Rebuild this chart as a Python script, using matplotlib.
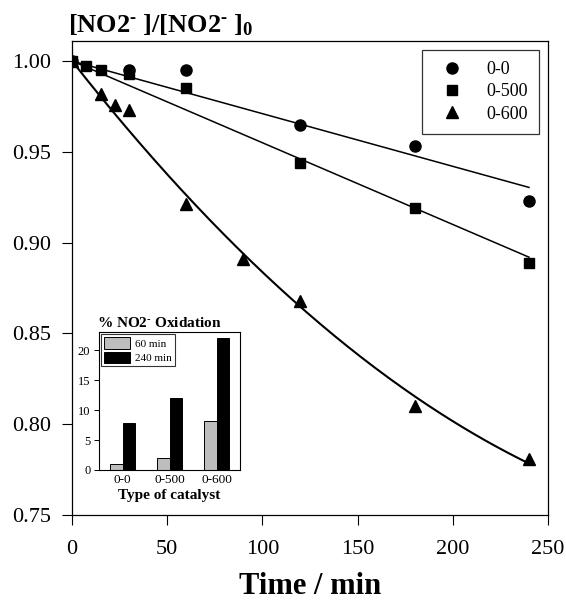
import numpy as np
import matplotlib
matplotlib.use("Agg")
import matplotlib.pyplot as plt

plt.rcParams['font.family'] = ['Liberation Serif', 'DejaVu Serif']
plt.rcParams['mathtext.fontset'] = 'custom'
plt.rcParams['mathtext.rm'] = 'Liberation Serif'
plt.rcParams['mathtext.bf'] = 'Liberation Serif:bold'
plt.rcParams['mathtext.it'] = 'Liberation Serif:italic'

# ---- data ----
t_00 = [0, 30, 60, 120, 180, 240]
y_00 = [1.000, 0.995, 0.995, 0.965, 0.953, 0.923]
t_500 = [0, 7.5, 15, 30, 60, 120, 180, 240]
y_500 = [1.000, 0.997, 0.995, 0.993, 0.985, 0.944, 0.919, 0.889]
t_600 = [0, 15, 22.5, 30, 60, 90, 120, 180, 240]
y_600 = [1.000, 0.982, 0.976, 0.973, 0.921, 0.891, 0.868, 0.810, 0.781]
series_labels = ['0-0', '0-500', '0-600']

x_ticks = [0, 50, 100, 150, 200, 250]
y_ticks = [0.75, 0.80, 0.85, 0.90, 0.95, 1.00]

catalysts = ['0-0', '0-500', '0-600']
pct_60 = [1.0, 2.0, 8.2]
pct_240 = [7.8, 12.0, 22.1]
inset_yticks = [0, 5, 10, 15, 20]

# ---- fits (anchored at t=0, y=1) ----
def lin_fit(t, y):
    t = np.asarray(t, float); y = np.asarray(y, float)
    b = np.sum(t * (y - 1)) / np.sum(t * t)
    return lambda x: 1 + b * x

def quad_fit(t, y):
    t = np.asarray(t, float); y = np.asarray(y, float)
    A = np.column_stack([t, t ** 2])
    coef, *_ = np.linalg.lstsq(A, y - 1, rcond=None)
    return lambda x: 1 + coef[0] * x + coef[1] * x ** 2

tt = np.linspace(0, 240, 200)

fig = plt.figure(figsize=(5.66, 6.05), dpi=100)
ax = fig.add_axes([72 / 566, 1 - 515 / 605, 476 / 566, 474 / 605])

ax.plot(tt, lin_fit(t_00, y_00)(tt), color='black', lw=1.1)
ax.plot(tt, lin_fit(t_500, y_500)(tt), color='black', lw=1.1)
ax.plot(tt, quad_fit(t_600, y_600)(tt), color='black', lw=1.5)

ax.plot(t_600, y_600, '^', color='black', ms=9, ls='none', label=series_labels[2])
ax.plot(t_500, y_500, 's', color='black', ms=7.5, ls='none', label=series_labels[1])
ax.plot(t_00, y_00, 'o', color='black', ms=8, ls='none', label=series_labels[0])

ax.set_xlim(0, 250)
ax.set_ylim(0.75, 1.011)
ax.set_xticks(x_ticks)
ax.set_xticklabels([str(v) for v in x_ticks])
ax.set_yticks(y_ticks)
ax.set_yticklabels(['%.2f' % v for v in y_ticks])
ax.tick_params(axis='both', direction='out', length=7, width=0.8, labelsize=16)
ax.tick_params(axis='x', pad=11)
ax.tick_params(axis='y', pad=8)
for s in ax.spines.values():
    s.set_linewidth(0.9)

h, l = ax.get_legend_handles_labels()
order = [2, 1, 0]
leg = ax.legend([h[i] for i in order], [l[i] for i in order], loc='upper right',
                fontsize=13, frameon=True, fancybox=False, edgecolor='black',
                borderpad=0.6, handlelength=2.2, handletextpad=0.8,
                labelspacing=0.3, borderaxespad=0.5)
leg.get_frame().set_linewidth(0.9)

ax.set_xlabel('Time / min', fontsize=22, fontweight='bold', labelpad=9)

fig.text(68 / 566, 1 - 32 / 605, '$\\mathbf{[NO2^{\u2010}\\ ]/[NO2^{\u2010}\\ ]_{0}}$',
         fontsize=19, va='baseline', ha='left')

# ---- inset ----
axi = fig.add_axes([99.3 / 566, 1 - 470 / 605, 140.7 / 566, 137.7 / 605])
xi = np.arange(len(catalysts))
w = 0.27
axi.bar(xi - w / 2, pct_60, width=w, color='#bdbdbd', edgecolor='black', linewidth=0.7, label='60 min')
axi.bar(xi + w / 2, pct_240, width=w, color='black', edgecolor='black', linewidth=0.7, label='240 min')
axi.set_xlim(-0.5, 2.5)
axi.set_ylim(0, 23)
axi.set_xticks(xi)
axi.set_xticklabels(catalysts)
axi.set_yticks(inset_yticks)
axi.tick_params(axis='x', length=0, pad=3, labelsize=9.5)
axi.tick_params(axis='y', direction='out', length=3.5, width=0.7, pad=3, labelsize=9)
for s in axi.spines.values():
    s.set_linewidth(0.8)
axi.set_xlabel('Type of catalyst', fontsize=11, fontweight='bold', labelpad=2)
axi.text(-0.018, 1.036, '% NO2$^{\\mathbf{\u2010}}$ Oxidation', transform=axi.transAxes,
         fontsize=11, fontweight='bold', va='baseline', ha='left')
lgi = axi.legend(loc='upper left', fontsize=8, frameon=True, fancybox=False,
                 edgecolor='black', borderpad=0.3, handlelength=2.3, handleheight=1.2,
                 handletextpad=0.5, labelspacing=0.25, borderaxespad=0.15)
lgi.get_frame().set_linewidth(0.8)

fig.savefig('out.png', dpi=100)
